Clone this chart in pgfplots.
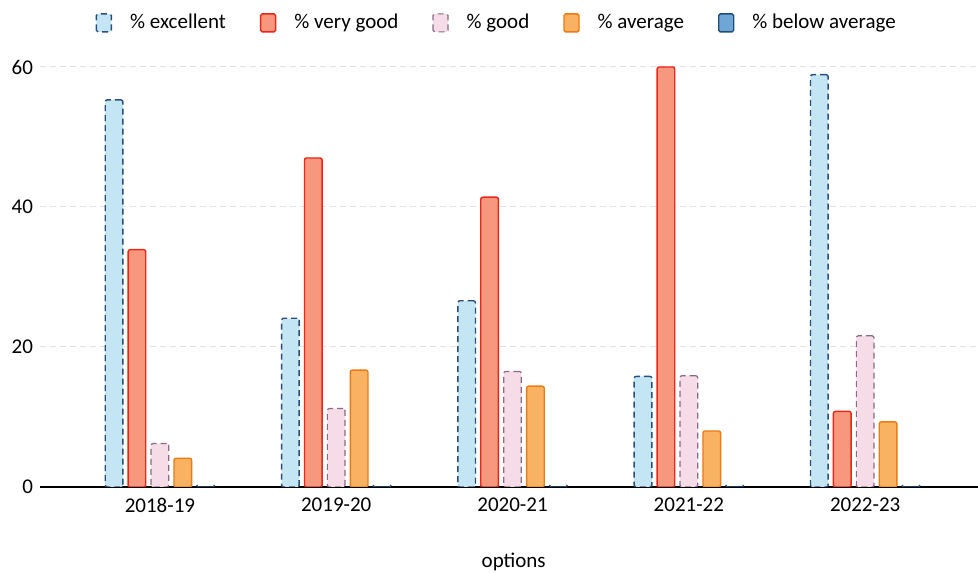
\documentclass[border=0pt]{standalone}
\usepackage{fontspec}
\setmainfont{Carlito}
\usepackage{pgfplots}
\pgfplotsset{compat=1.18}
\usetikzlibrary{calc}

\definecolor{exFill}{HTML}{C4E6F4}
\definecolor{exLine}{HTML}{2A4E7A}
\definecolor{vgFill}{HTML}{F7977E}
\definecolor{vgLine}{HTML}{E8261A}
\definecolor{gdFill}{HTML}{F6DCE6}
\definecolor{gdLine}{HTML}{8A6A86}
\definecolor{avFill}{HTML}{F9B261}
\definecolor{avLine}{HTML}{EE7A12}
\definecolor{baFill}{HTML}{6FA6D6}
\definecolor{baLine}{HTML}{1F4E79}

\pgfplotstableread{
x  ex    vg    gd    av    ba
0  55.3  33.9  6.2   4.1   0
1  24.1  47.0  11.2  16.7  0
2  26.6  41.4  16.5  14.4  0
3  15.8  60.0  15.9  8.0   0
4  58.9  10.8  21.6  9.3   0
}\datatable

\begin{document}
\begin{tikzpicture}
\begin{axis}[
  scale only axis,
  width=469pt, height=210pt,
  xmin=-0.68, xmax=4.64,
  ymin=0, ymax=60,
  ytick={0,20,40,60},
  xtick={0,1,2,3,4},
  xticklabels={2018-19,2019-20,2020-21,2021-22,2022-23},
  axis x line=bottom, axis y line=left,
  x axis line style={-, line width=1.3pt, black},
  y axis line style={draw=none},
  major tick length=0pt,
  ymajorgrids,
  major grid style={densely dashed, black!12, line width=0.5pt},
  ticklabel style={font=\fontsize{10.5}{12}\selectfont, text=black},
  /pgf/number format/assume math mode=true,
  xticklabel style={yshift=-2pt},
  xlabel={options},
  xlabel style={at={(axis description cs:0.505,0)}, anchor=center, yshift=-37.5pt, font=\fontsize{10.5}{12}\selectfont, text=black},
  ybar, bar width=0.1,
  legend columns=5,
  legend style={draw=none, fill=none, at={(axis description cs:0.488,1.105)}, anchor=center,
    font=\fontsize{10.5}{12}\selectfont, text=black,
    /tikz/every odd column/.append style={column sep=7pt},
    /tikz/every even column/.append style={column sep=15pt}},
  legend image code/.code={\draw[#1, rounded corners=0.8pt] (0pt,-4.5pt) rectangle (7.5pt,4.5pt);},
]
\addplot[bar shift=-0.26, fill=exFill, draw=exLine, densely dashed, line width=0.7pt, rounded corners=1pt] table[x=x, y=ex] {\datatable};
\addplot[bar shift=-0.13, fill=vgFill, draw=vgLine, line width=0.7pt, rounded corners=1pt] table[x=x, y=vg] {\datatable};
\addplot[bar shift=0, fill=gdFill, draw=gdLine, densely dashed, line width=0.6pt, rounded corners=1pt] table[x=x, y=gd] {\datatable};
\addplot[bar shift=0.13, fill=avFill, draw=avLine, line width=0.7pt, rounded corners=1pt] table[x=x, y=av] {\datatable};
\addplot[bar shift=0.26, fill=baFill, draw=baLine, line width=0.7pt, rounded corners=1pt] table[x=x, y=ba] {\datatable};
\legend{\% excellent, \% very good, \% good, \% average, \% below average}
\end{axis}
\pgfresetboundingbox
\path[use as bounding box] ($(current axis.south west)+(-20pt,-43pt)$) rectangle ($(current axis.north east)+(0pt,33.5pt)$);
\end{tikzpicture}
\end{document}
